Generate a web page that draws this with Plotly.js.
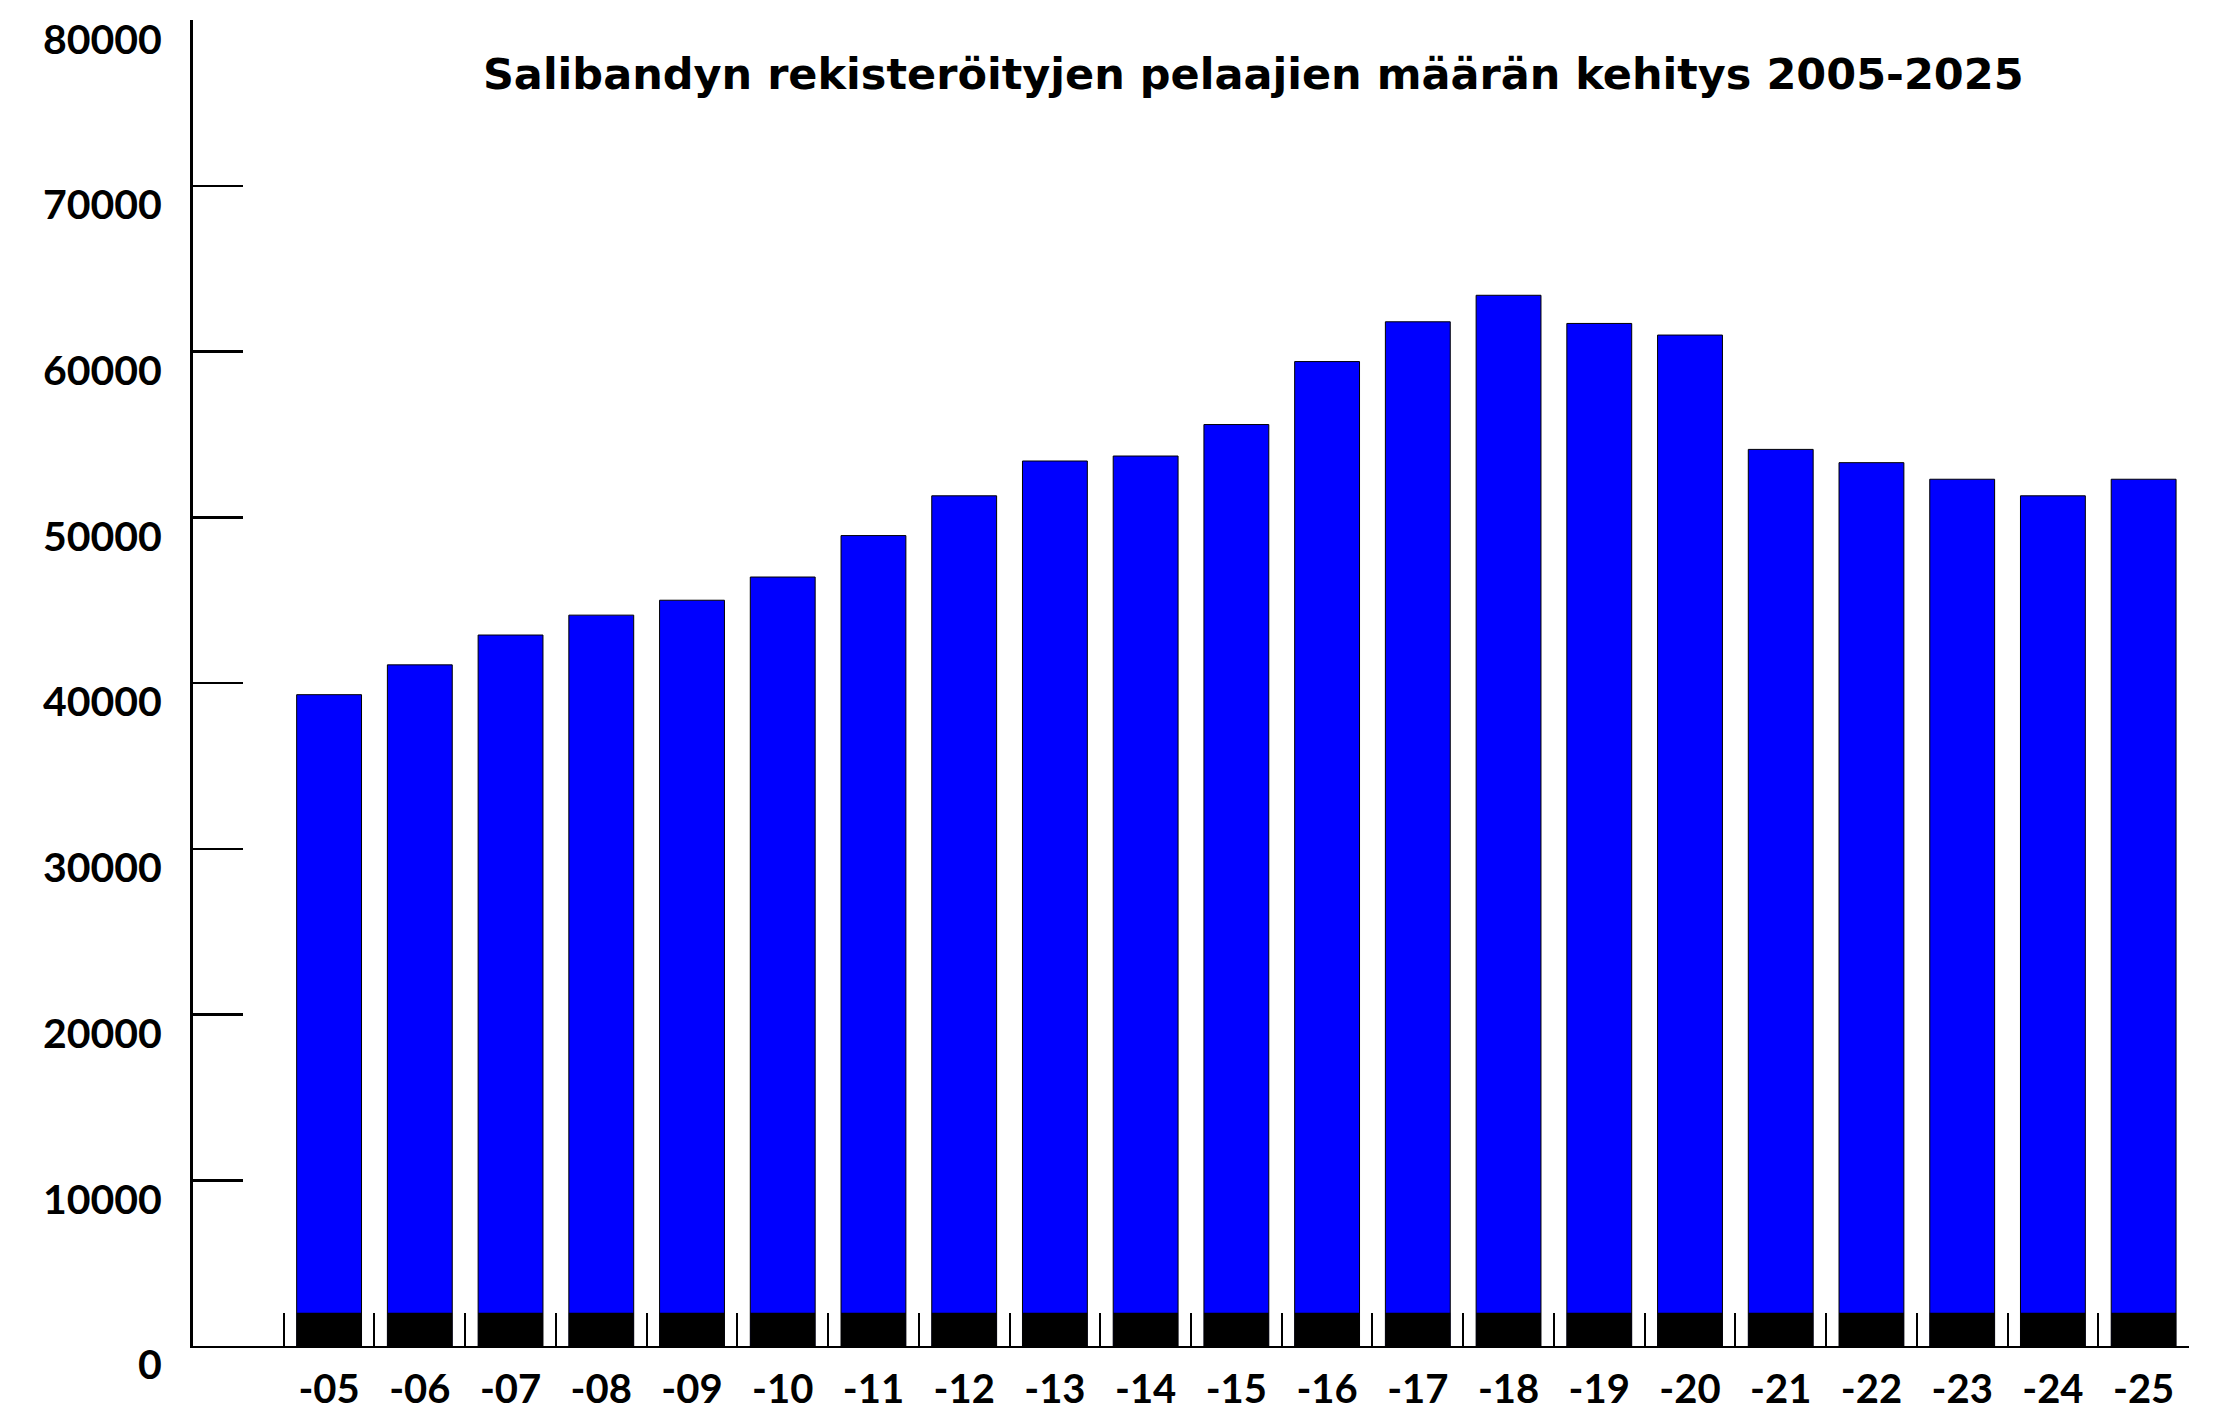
<!DOCTYPE html>
<html>
<head>
<meta charset="utf-8">
<script src="https://cdn.plot.ly/plotly-3.0.1.min.js"></script>
<style>
html,body{margin:0;padding:0;background:#fff;}
#chart{width:2238px;height:1411px;}
</style>
</head>
<body>
<div id="chart"></div>
<script>
const seasons = ['-05','-06','-07','-08','-09','-10','-11','-12','-13','-14','-15','-16','-17','-18','-19','-20','-21','-22','-23','-24','-25'];
const players = [39300, 41100, 42900, 44100, 45000, 46400, 48900, 51300, 53400, 53700, 55600, 59400, 61800, 63400, 61700, 61000, 54100, 53300, 52300, 51300, 52300];
const bandHeight = 2000;
const yTickValues = [0, 10000, 20000, 30000, 40000, 50000, 60000, 70000, 80000];
const yTickLabels = ['0', '10000', '20000', '30000', '40000', '50000', '60000', '70000', '80000'];
const titleText = 'Salibandyn rekisteröityjen pelaajien määrän kehitys 2005-2025';

const FONT = 'Lato, "Open Sans", sans-serif';
const TITLE_FONT = '"DejaVu Sans", sans-serif';

const traces = [
  {
    type: 'bar',
    x: seasons,
    y: players,
    marker: {color: '#0000ff', line: {color: '#000000', width: 1}},
    hoverinfo: 'x+y',
    showlegend: false
  },
  {
    type: 'bar',
    x: seasons,
    y: seasons.map(() => bandHeight),
    marker: {color: '#000000', line: {width: 0}},
    hoverinfo: 'skip',
    showlegend: false
  }
];

const layout = {
  width: 2238,
  height: 1411,
  paper_bgcolor: '#ffffff',
  plot_bgcolor: '#ffffff',
  margin: {l: 193, r: 49, t: 20, b: 65, pad: 0},
  barmode: 'overlay',
  bargap: 0.285,
  showlegend: false,
  title: {
    text: titleText,
    font: {family: TITLE_FONT, size: 43, weight: 'bold', color: '#000'},
    xref: 'container', x: 0.56, xanchor: 'center',
    yref: 'container', y: 1 - 74/1411, yanchor: 'middle'
  },
  xaxis: {
    type: 'category',
    range: [-1.5, 20.5],
    showgrid: false,
    zeroline: false,
    showline: true,
    linecolor: '#000',
    linewidth: 2,
    ticks: 'inside',
    tickson: 'boundaries',
    ticklen: 33,
    tickwidth: 2,
    tickcolor: '#000',
    ticklabelstandoff: 7,
    tickfont: {family: FONT, size: 40, weight: 'bold', color: '#000'},
    fixedrange: true
  },
  yaxis: {
    range: [0, 80010],
    tickvals: yTickValues,
    ticktext: yTickLabels,
    showgrid: false,
    zeroline: false,
    showline: true,
    linecolor: '#000',
    linewidth: 3,
    ticks: 'inside',
    ticklen: 50,
    tickwidth: 2.5,
    tickcolor: '#000',
    ticklabelstandoff: 20,
    ticklabelshift: 19,
    tickfont: {family: FONT, size: 41, weight: 'bold', color: '#000'},
    fixedrange: true
  }
};

Plotly.newPlot('chart', traces, layout, {displayModeBar: false, staticPlot: true});
</script>
</body>
</html>
